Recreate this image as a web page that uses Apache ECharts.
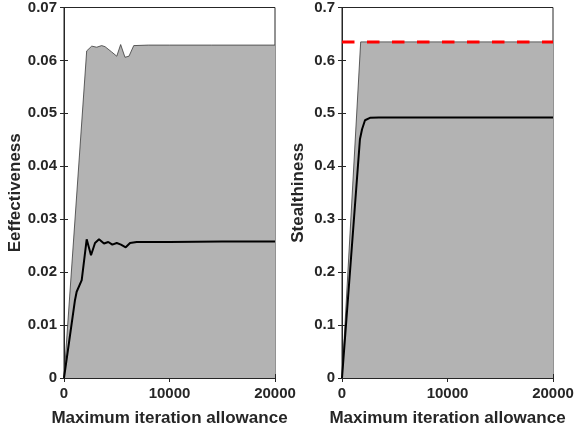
<!DOCTYPE html>
<html>
<head>
<meta charset="utf-8">
<script src="https://cdn.jsdelivr.net/npm/echarts@6/dist/echarts.min.js"></script>
<style>html,body{margin:0;padding:0;background:#fff}#c{width:577px;height:434px}</style>
</head>
<body>
<div id="c"></div>
<script>
// Left panel: Effectiveness
var effUpperX = [0, 2150, 2630, 3100, 3570, 3890, 4520, 5000, 5370, 5780, 6160, 6610, 8000, 10000, 14000, 20000];
var effUpperY = [0, 0.0618, 0.0627, 0.0625, 0.0628, 0.0626, 0.0616, 0.0608, 0.0630, 0.0606, 0.0608, 0.0628, 0.0629, 0.0629, 0.0629, 0.0629];
var effMeanX = [0, 1040, 1200, 1680, 2150, 2560, 2940, 3320, 3790, 4200, 4580, 5000, 5400, 5850, 6260, 6890, 10000, 15000, 20000];
var effMeanY = [0, 0.0147, 0.0163, 0.0185, 0.0262, 0.0232, 0.0255, 0.0262, 0.0254, 0.0257, 0.0252, 0.0255, 0.0252, 0.0247, 0.0255, 0.0257, 0.0257, 0.0258, 0.0258];
// Right panel: Stealthiness
var stUpperX = [0, 1770, 20000];
var stUpperY = [0, 0.635, 0.635];
var stMeanX = [0, 1700, 1900, 2180, 2650, 3500, 20000];
var stMeanY = [0, 0.451, 0.470, 0.487, 0.4915, 0.492, 0.492];
var stRefX = [0, 20000];
var stRefY = [0.635, 0.635];
var xTicks = [0, 10000, 20000];

function pairs(xs, ys) { return xs.map(function (x, i) { return [x, ys[i]]; }); }

var txt = '#262626';
var font = 'Liberation Sans, Arial, Helvetica, sans-serif';
var tickFs = 15, nameFs = 17;
var grids = [
  { left: 64, right: 302, top: 7, bottom: 56, show: true, borderColor: '#262626', borderWidth: 1, backgroundColor: 'transparent' },
  { left: 342, right: 24, top: 7, bottom: 56, show: true, borderColor: '#262626', borderWidth: 1, backgroundColor: 'transparent' }
];
function xAx(g, pos, showLab) {
  return {
    type: 'value', gridIndex: g, position: pos, min: 0, max: 20000, interval: 10000,
    name: showLab ? 'Maximum iteration allowance' : '', nameLocation: 'middle', nameGap: 32,
    nameTextStyle: { color: txt, fontSize: nameFs, fontWeight: 'bold', fontFamily: font },
    axisLine: { show: true, lineStyle: { color: '#262626', width: 1 } },
    axisTick: { show: true, inside: true, length: 4, lineStyle: { color: '#262626' } },
    axisLabel: { show: showLab, color: txt, fontSize: tickFs, fontWeight: 'bold', fontFamily: font, margin: 8,
      formatter: function (v) { return String(v); } },
    splitLine: { show: false }
  };
}
function yAx(g, pos, showLab, max, intv, name) {
  return {
    type: 'value', gridIndex: g, position: pos, min: 0, max: max, interval: intv,
    name: showLab ? name : '', nameLocation: 'middle', nameGap: g === 0 ? 36 : 35,
    nameTextStyle: { color: txt, fontSize: nameFs, fontWeight: 'bold', fontFamily: font },
    axisLine: { show: true, lineStyle: { color: '#262626', width: 1 } },
    axisTick: { show: true, inside: true, length: 4, lineStyle: { color: '#262626' } },
    axisLabel: { show: showLab, color: txt, fontSize: tickFs, fontWeight: 'bold', fontFamily: font, margin: 7,
      formatter: function (v) { return v === 0 ? '0' : String(+v.toFixed(2)); } },
    splitLine: { show: false }
  };
}

var chart = echarts.init(document.getElementById('c'), null, { renderer: 'canvas' });
chart.setOption({
  animation: false,
  backgroundColor: '#fff',
  grid: grids,
  xAxis: [xAx(0, 'bottom', true), xAx(1, 'bottom', true), xAx(0, 'top', false), xAx(1, 'top', false)],
  yAxis: [yAx(0, 'left', true, 0.07, 0.01, 'Eeffectiveness'), yAx(1, 'left', true, 0.7, 0.1, 'Stealthiness'),
          yAx(0, 'right', false, 0.07, 0.01, ''), yAx(1, 'right', false, 0.7, 0.1, '')],
  series: [
    { type: 'line', xAxisIndex: 0, yAxisIndex: 0, data: pairs(effUpperX, effUpperY), showSymbol: false, symbol: 'none',
      lineStyle: { color: '#3a3a3a', width: 0.8 }, areaStyle: { color: '#b3b3b3', opacity: 1 }, z: 2 },
    { type: 'line', xAxisIndex: 0, yAxisIndex: 0, data: pairs(effMeanX, effMeanY), showSymbol: false, symbol: 'none',
      lineStyle: { color: '#000', width: 2 }, z: 3 },
    { type: 'line', xAxisIndex: 1, yAxisIndex: 1, data: pairs(stUpperX, stUpperY), showSymbol: false, symbol: 'none',
      lineStyle: { color: '#3a3a3a', width: 0.8 }, areaStyle: { color: '#b3b3b3', opacity: 1 }, z: 2 },
    { type: 'line', xAxisIndex: 1, yAxisIndex: 1, data: pairs(stMeanX, stMeanY), showSymbol: false, symbol: 'none',
      lineStyle: { color: '#000', width: 2 }, z: 3 },
    { type: 'line', xAxisIndex: 1, yAxisIndex: 1, data: pairs(stRefX, stRefY), showSymbol: false, symbol: 'none',
      lineStyle: { color: '#ff0000', width: 3, type: [12.5, 12.5] }, z: 4 }
  ]
});
</script>
</body>
</html>
